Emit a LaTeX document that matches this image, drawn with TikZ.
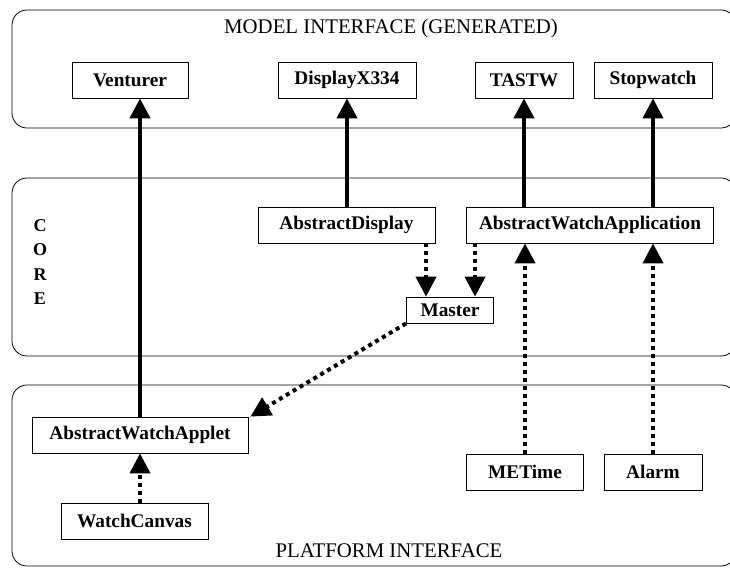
\documentclass[tikz,border=0pt]{standalone}
\usepackage{fontspec}
\setmainfont{Liberation Serif}
\usetikzlibrary{arrows.meta, positioning, calc}

\begin{document}
\begin{tikzpicture}[x=1pt, y=-1pt,
    layer/.style={draw, rounded corners=15pt, line width=0.8pt},
    cls/.style={draw, line width=0.8pt, minimum height=36pt, inner sep=2pt, font=\fontsize{19.3}{22}\selectfont\bfseries},
    caption/.style={font=\fontsize{20.8}{24}\selectfont},
    uses/.style={-{Triangle[length=20pt,width=20pt]}, line width=4pt},
    depend/.style={-{Triangle[length=20pt,width=20pt]}, line width=4pt, dash pattern=on 4pt off 4pt},
    ]
  \useasboundingbox (0,0) rectangle (730,568);
  \clip (0,0) rectangle (730,568);
  % layers
  \draw[layer] (12,10) rectangle (736,128);
  \draw[layer] (12,178) rectangle (736,356);
  \draw[layer] (12,385) rectangle (736,566);
  \node[caption] (mtitle) at (391,28) {MODEL INTERFACE (GENERATED)};
  \node[caption] (ptitle) at (389,551) {PLATFORM INTERFACE};
  \node[align=center, font=\fontsize{18}{24.5}\selectfont\bfseries] (core) at (40,262) {C\\O\\R\\E};
  % model classes
  \node[cls, minimum width=116pt] (venturer) at (130,80) {Venturer};
  \node[cls, minimum width=138pt] (displayx) at (347,80) {DisplayX334};
  \node[cls, minimum width=98pt] (tastw) at (524,80) {TASTW};
  \node[cls, minimum width=118pt] (stopwatch) at (653,80) {Stopwatch};
  % core classes
  \node[cls, minimum width=177pt] (absdisplay) at (346.5,225) {AbstractDisplay};
  \node[cls, minimum width=247pt] (awapp) at (590,225) {AbstractWatchApplication};
  \node[cls, minimum width=87pt, minimum height=26pt] (master) at (450,310) {Master};
  % platform classes
  \node[cls, minimum width=216pt] (applet) at (140,435) {AbstractWatchApplet};
  \node[cls, minimum width=147pt] (canvas) at (134.5,521) {WatchCanvas};
  \node[cls, minimum width=117pt] (metime) at (525,472) {METime};
  \node[cls, minimum width=98pt] (alarm) at (653,472) {Alarm};
  \coordinate (m1) at ([xshift=-24pt]master.north);
  \coordinate (m2) at ([xshift=25pt]master.north);
  % generated interfaces
  \draw[uses] (applet.north) -- (applet.north |- venturer.south);
  \draw[uses] (absdisplay.north -| displayx) -- (displayx.south);
  \draw[uses] (awapp.north -| tastw) -- (tastw.south);
  \draw[uses] (awapp.north -| stopwatch) -- (stopwatch.south);
  % dependencies
  \draw[depend] (absdisplay.south -| m1) -- (m1);
  \draw[depend] (awapp.south -| m2) -- (m2);
  \draw[depend] (master.south west) -- ([xshift=2pt]applet.north east);
  \draw[depend] (metime.north) -- (metime.north |- awapp.south);
  \draw[depend] (alarm.north) -- (alarm.north |- awapp.south);
  \draw[depend] (canvas.north -| applet) -- (applet.south);
\end{tikzpicture}
\end{document}
